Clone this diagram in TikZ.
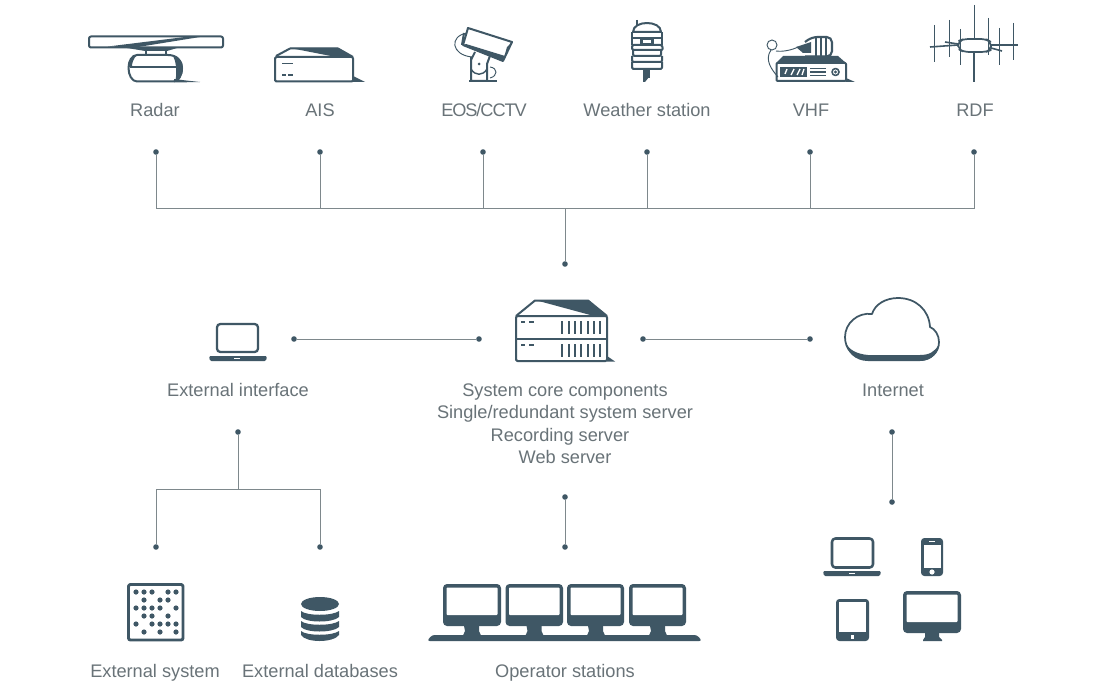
\documentclass[tikz,border=0pt]{standalone}
\usepackage{fontspec}
\setmainfont{Liberation Sans}
\definecolor{ic}{HTML}{3F5765}
\definecolor{wire}{HTML}{7E888C}
\definecolor{lbl}{HTML}{697378}
\tikzset{
  lab/.style={text=lbl,font=\fontsize{13.65pt}{16pt}\selectfont,inner sep=0pt,anchor=base},
  dotn/.style={circle,fill=ic,draw=none,minimum size=4.2pt,inner sep=0pt},
  wirel/.style={draw=wire,line width=0.65pt},
  dk/.style={fill=ic,draw=none},
  ol/.style={draw=ic,line width=1.5pt,line join=round},
  olt/.style={draw=ic,line width=2.2pt,line join=round},
  thinl/.style={draw=ic,line width=0.7pt},
  wh/.style={fill=white,draw=none}
}
\begin{document}
\begin{tikzpicture}[x=0.75pt,y=-0.75pt]
\useasboundingbox (0,0) rectangle (1120,692);
\fill[white] (0,0) rectangle (1120,692);

% ---------- labels
\node[lab] (lradar) at (155,116) {Radar};
\node[lab] (lais) at (320,116) {AIS};
\node[lab] (leos) at (484,116) {\addfontfeature{LetterSpace=-6}EOS/CCTV};
\node[lab] (lwx) at (647,116) {Weather station};
\node[lab] (lvhf) at (811,116) {VHF};
\node[lab] (lrdf) at (975,116) {RDF};
\node[lab] (lext) at (238,396) {External interface};
\node[lab] (lc1) at (565,396) {System core components};
\node[lab] (lc2) at (565,418) {Single/redundant system server};
\node[lab] (lc3) at (560,441) {Recording server};
\node[lab] (lc4) at (565,463) {Web server};
\node[lab] (lnet) at (893,396) {Internet};
\node[lab] (lsys) at (155,677) {External system};
\node[lab] (ldb) at (320,677) {External databases};
\node[lab] (lop) at (565,677) {Operator stations};

% ---------- connectors
\node[dotn] (d1) at (156,152) {};
\node[dotn] (d2) at (320,152) {};
\node[dotn] (d3) at (483,152) {};
\node[dotn] (d4) at (647,152) {};
\node[dotn] (d5) at (810,152) {};
\node[dotn] (d6) at (974,152) {};
\node[dotn] (dbus) at (565,264) {};
\coordinate (j1) at (156,208);
\coordinate (j2) at (320,208);
\coordinate (j3) at (483,208);
\coordinate (j4) at (647,208);
\coordinate (j5) at (810,208);
\coordinate (j6) at (974,208);
\coordinate (jc) at (565,208);
\draw[wirel] (d1) -- (j1) -- (j6) -- (d6);
\draw[wirel] (d2) -- (j2);
\draw[wirel] (d3) -- (j3);
\draw[wirel] (d4) -- (j4);
\draw[wirel] (d5) -- (j5);
\draw[wirel] (jc) -- (dbus);

\node[dotn] (ha) at (294,339) {};
\node[dotn] (hb) at (479,339) {};
\node[dotn] (hc) at (643,339) {};
\node[dotn] (hd) at (810,339) {};
\draw[wirel] (ha) -- (hb);
\draw[wirel] (hc) -- (hd);

\node[dotn] (ea) at (238,432) {};
\node[dotn] (eb) at (156,547) {};
\node[dotn] (ec) at (320,547) {};
\coordinate (ej) at (238,489);
\coordinate (ejl) at (156,489);
\coordinate (ejr) at (320,489);
\draw[wirel] (ea) -- (ej);
\draw[wirel] (eb) -- (ejl) -- (ejr) -- (ec);

\node[dotn] (oa) at (565,497) {};
\node[dotn] (ob) at (565,547) {};
\draw[wirel] (oa) -- (ob);

\node[dotn] (ia) at (892,432) {};
\node[dotn] (ib) at (892,502) {};
\draw[wirel] (ia) -- (ib);

% ---------- Radar
\draw[ol,rounded corners=1.5pt] (89,36.5) rectangle (223,47.5);
\fill[dk] (108,46.5) -- (185,37) -- (200,37) -- (135,47.5) -- cycle;
\fill[dk] (127,48) -- (177,48) -- (167,51) -- (145,51) -- cycle;
\draw[ol,line width=1.1pt] (146,51) -- (146,55) (166,51) -- (166,55);
\draw[ol] (137,55) -- (168,55) .. controls (177,55) and (182,61) .. (182,68)
  .. controls (182,76) and (178,81.5) .. (173,81.5) -- (137,81.5)
  .. controls (132,81.5) and (128.5,75) .. (128.5,68) .. controls (128.5,61) and (132,55) .. (137,55) -- cycle;
\draw[ol] (130,67) -- (180,67);
\fill[dk] (172,55) .. controls (180,57) and (183,62) .. (183,68) .. controls (183,75) and (179,82) .. (175,82)
  .. controls (177,76) and (177,60) .. (172,55) -- cycle;
\fill[dk] (128,66) .. controls (128,60) and (132,56) .. (137,55) .. controls (133,59) and (132,63) .. (132,67) -- (128,67) -- cycle;
\fill[dk] (174,79) -- (186,80.5) -- (200,82) -- (174,82.5) -- cycle;

% ---------- AIS
\draw[ol,rounded corners=1pt] (275,57) rectangle (353,81.5);
\draw[ol] (276,56) -- (290,48.5) -- (338,48.5) -- (353,57);
\fill[dk] (290,48) -- (338,48) -- (353,57) -- (336,57) -- cycle;
\fill[dk] (353,76) -- (365,82) -- (353,82) -- cycle;
\draw[ol,line width=1.3pt] (282,63.5) -- (293,63.5);
\draw[ol,line width=1.3pt] (282,75) -- (286,75) (288,75) -- (293,75);

% ---------- EOS / CCTV
\draw[thinl] (467,33) .. controls (449,36) and (451,55) .. (472,57);
\draw[thinl] (490,67) .. controls (498,68) and (498,76) .. (490,78);
\draw[ol,fill=white] (468,28) -- (512,42) -- (503,61) -- (463,45) -- cycle;
\draw[ol] (464,33) -- (462,45);
\fill[dk] (463,45) -- (503,61) -- (505,56) -- (466,44) -- cycle;
\fill[dk] (512,42) -- (503,61) -- (507,47) -- cycle;
\draw[ol] (471,57) -- (471,81) -- (487,81) -- (487,64) -- (491,53);
\draw[ol,line width=1.1pt] (471,69) .. controls (475,76) and (483,76) .. (487,69);
\draw[ol] (475,52) -- (471,60);
\draw[ol] (469,81) -- (497,81);
\fill[dk] (479,64) circle (1.5);

% ---------- Weather station
\draw[ol,line width=1pt] (637,20) -- (637,26);
\draw[ol,fill=white] (633,32) .. controls (633,26) and (640,23) .. (647,23) .. controls (654,23) and (661,26) .. (661,32) -- cycle;
\draw[ol] (632,38) -- (662,38) (632,32) -- (632,45) (662,32) -- (662,45);
\fill[dk] (640,38) rectangle (654,45);
\fill[white] (643,40) rectangle (651,43);
\draw[ol,rounded corners=1pt] (632,45) -- (662,45) -- (663,50) -- (632,50) -- cycle;
\draw[ol,rounded corners=1pt] (633,50) -- (633,56) -- (661,56) -- (661,50);
\draw[ol,rounded corners=1pt] (632,56) -- (632,62) -- (662,62) -- (662,56);
\draw[ol,rounded corners=1pt] (632,62) -- (632,69) -- (662,69) -- (662,62);
\draw[ol] (643.5,70) -- (643.5,80) ;
\fill[dk] (645,70) -- (649,70) -- (649,77) -- (645,82) -- (643,82) -- (643,78) -- (645,78) -- cycle;
\draw[ol,line width=.9pt] (649,70) -- (649,78);

% ---------- VHF
\draw[thinl] (771,50) .. controls (764,60) and (772,70) .. (778,77);
\draw[thinl] (776,51) .. controls (783,52) and (792,50) .. (798,47);
\draw[thinl] (772,45) circle (5);
\fill[dk] (796,47) -- (811,42) -- (811,53) -- (803,53) -- cycle;
\draw[ol,rounded corners=4pt,line width=1.6pt] (805,42) -- (812,37) -- (832,37) -- (832,56.5) -- (805,56.5);
\draw[ol,line width=1.2pt] (816,38) -- (816,56) (821,38) -- (821,56) (826,38) -- (826,56);
\draw[ol,rounded corners=.8pt] (776.5,63) rectangle (846,81);
\fill[dk] (776,63) -- (783,56) -- (838,56) -- (846,63) -- cycle;
\fill[dk] (780,67) rectangle (807,77);
\draw[white,line width=1pt] (785,74) -- (787,69) (791,75) -- (794,69) (797,75) -- (800,69) (802,75)--(804,69);
\draw[ol,line width=1pt] (810,68.5) -- (826,68.5) (810,72) -- (826,72) (810,75.5) -- (826,75.5);
\draw[ol,line width=1.2pt] (835.5,72) circle (3.5);
\fill[dk] (835.5,72) circle (1.6);
\fill[dk] (846,78) -- (855,82) -- (846,82) -- cycle;

% ---------- RDF
\draw[thinl] (974,5) -- (974,38);
\draw[thinl] (934,25) -- (934,62);
\draw[thinl] (949,20) -- (949,57);
\draw[thinl] (960,29) -- (960,65);
\draw[thinl] (988,18) -- (988,55);
\draw[thinl] (999,28) -- (999,65);
\draw[thinl] (1013,23) -- (1013,60);
\draw[ol,line width=1.2pt] (930,47) -- (958,45);
\draw[ol,line width=1.2pt] (991,45) -- (1018,45);
\draw[ol,line width=1.2pt] (945,42) -- (958,44);
\draw[ol,line width=1.2pt] (991,48) -- (1002,51);
\draw[ol,line width=1.3pt,rounded corners=4pt] (958,41) -- (964,39) -- (986,39) -- (991,42) -- (991,50) -- (986,52) -- (964,52) -- (958,49) -- cycle;
\draw[ol,line width=2pt] (974,52) -- (974,82);

% ---------- Server
\draw[ol,rounded corners=1pt] (516,316) rectangle (607,361);
\draw[ol] (516,338.5) -- (607,338.5);
\draw[ol] (516,316) -- (535,300.5) -- (588,300.5) -- (607,316);
\fill[dk] (535,300) -- (588,300) -- (607,316) -- (594,316) -- cycle;
\draw[ol,line width=1.3pt] (521,322) -- (525,322) (529,322) -- (534,322);
\draw[ol,line width=1.3pt] (521,345) -- (525,345) (529,345) -- (534,345);
\foreach \bx in {562,568.7,575,581.3,587.7,594,600.3}{
  \draw[ol,line width=1.3pt] (\bx,321) -- (\bx,334);
  \draw[ol,line width=1.3pt] (\bx,344) -- (\bx,357);
}
\fill[dk] (607,356) -- (615,361.5) -- (607,361.5) -- cycle;

% ---------- Laptop (external interface)
\draw[ol,line width=1.7pt,rounded corners=2.5pt] (217,324) rectangle (258,352);
\fill[dk,rounded corners=1pt] (209,356) -- (267,356) -- (266,361) -- (210,361) -- cycle;
\fill[white] (234,358) rectangle (240,359.3);

% ---------- Cloud
\draw[ol,line width=1.3pt] (868,358.5) .. controls (853,358.5) and (845,349) .. (845,337)
  .. controls (845,323) and (858,312) .. (872,314)
  .. controls (875,304) and (886,298) .. (898,298)
  .. controls (916,298) and (929,310) .. (930,327)
  .. controls (935,329) and (939,335) .. (939,342)
  .. controls (939,352) and (931,360) .. (920,360) -- cycle;
\fill[dk] (846,343) .. controls (849,350) and (857,354) .. (868,355) -- (920,355)
  .. controls (929,355) and (935,352) .. (939,344)
  .. controls (939,353) and (931,361) .. (920,361) -- (868,361)
  .. controls (855,361) and (847,352) .. (846,343) -- cycle;

% ---------- External system
\draw[ol,line width=2.2pt,rounded corners=1.5pt] (128.5,584.5) rectangle (183,640);
\foreach \dx/\dy in {136/592,144/592,152/592,168/592,176/592,
  144/600,160/600,168/600,
  136/608,144/608,152/608,160/608,176/608,
  144/616,152/616,168/616,
  136/624,152/624,160/624,168/624,176/624,
  144/632,160/632,176/632}{
  \fill[dk] (\dx,\dy) circle (2.6);
}

% ---------- Database
\fill[dk] (320,604) ellipse (19 and 7);
\fill[dk] (301,611) .. controls (306,616) and (333,616) .. (339,611) -- (339,617)
  .. controls (333,623) and (306,623) .. (301,617) -- cycle;
\fill[dk] (301,621) .. controls (306,626) and (333,626) .. (339,621) -- (339,627)
  .. controls (333,633) and (306,633) .. (301,627) -- cycle;
\fill[dk] (301,631) .. controls (306,636) and (333,636) .. (339,631) -- (339,635)
  .. controls (333,643) and (306,643) .. (301,635) -- cycle;

% ---------- Operator stations
\fill[dk,rounded corners=2pt] (427,641) -- (432,635) -- (697,635) -- (702,641) -- cycle;
\foreach \mx/\mw in {443/58,505.5/57.5,567/57,629/57}{
  \fill[dk,rounded corners=3pt] (\mx,584) rectangle ++(\mw,42);
  \fill[white,rounded corners=.7pt] (\mx+3.5,587.5) rectangle ++(\mw-7,27.5);
  \fill[dk] (\mx+21,626) -- (\mx+22,631) -- (\mx+20,635.5) -- (\mx+38,635.5) -- (\mx+36,631) -- (\mx+36,626) -- cycle;
}

% ---------- Devices
\draw[ol,line width=1.9pt,rounded corners=2.5pt] (832,538.5) rectangle (873,567.5);
\fill[dk,rounded corners=1pt] (823,571) -- (881,571) -- (880,576) -- (824,576) -- cycle;
\fill[white] (849,573) rectangle (855,574.3);

\fill[dk,rounded corners=2.5pt] (921,538) rectangle (943,576);
\fill[white] (923.5,545) rectangle (940.5,568);
\fill[white] (929,541) rectangle (935,542);
\fill[white] (932,572) circle (2.6);

\fill[dk,rounded corners=2.5pt] (836,599) rectangle (869,641);
\fill[white] (839,602) rectangle (866,632);
\fill[white] (850.5,635) rectangle (854,639);

\fill[dk,rounded corners=3pt] (903,591) rectangle (961,633);
\fill[white,rounded corners=.7pt] (906.5,594.5) rectangle (957.5,622);
\fill[dk] (925,633) -- (939,633) -- (939,637) -- (942,640) -- (942,641) -- (923,641) -- (923,640) -- (925,637) -- cycle;
\end{tikzpicture}
\end{document}
